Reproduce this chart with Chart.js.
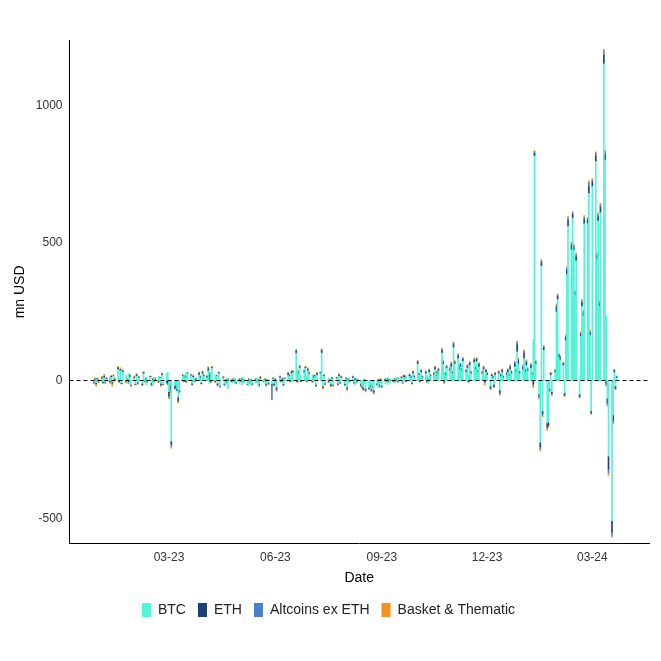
<!DOCTYPE html>
<html><head><meta charset="utf-8">
<script src="https://cdn.jsdelivr.net/npm/chart.js@4/dist/chart.umd.min.js"></script>
<style>html,body{margin:0;padding:0;background:#fff}canvas{display:block}</style>
</head><body><canvas id="c" width="661" height="661"></canvas>
<script>
// Weekday flows, starting Monday 2022-12-26, 5 values per week (Mon..Fri)
const BTC = [
-5,3,-8,4,2, 6,-4,10,-6,5, 8,12,-5,15,-3, 40,10,35,-8,30, 20,-10,25,12,-15,
8,-12,15,-6,10, -10,25,5,-15,8, 12,-8,-18,10,-6, 15,8,-10,20,-12, 25,30,-40,-15,-220,
-20,-15,-30,-60,-35, 15,20,10,30,25, 18,-10,12,8,-6, 20,10,-8,25,15, 10,35,-12,30,45,
20,15,-10,25,-20, 10,-12,-15,8,-30, 6,-8,10,-12,-5, -10,8,-15,12,-8, -12,-18,6,-15,-10,
-8,10,-20,-12,6, 5,-6,-10,-15,-8, -12,6,-10,-8,-25, 10,5,-8,-12,6, 20,15,10,25,30,
100,40,25,45,20, 30,45,15,35,25, 20,10,15,-15,20, 25,100,-20,15,-10, 10,-8,-12,6,-15,
8,-10,15,-6,10, -12,6,-25,-8,10, 10,-6,-15,8,-10, -12,-20,-25,-10,-30, -25,-15,-30,-20,-35,
-10,-25,-15,-8,-20, -12,8,-15,10,-10, 6,-8,10,-5,12, 8,-6,12,10,20, 15,10,-8,25,12,
60,20,15,30,10, 25,18,-10,30,15, 20,40,15,25,35, 100,60,30,20,45, 35,50,25,120,60,
80,40,50,35,70, 30,45,20,55,25, 65,40,70,30,50, 25,40,15,30,20, -20,15,10,-15,20,
25,-35,15,30,10, 20,30,15,40,25, 50,30,105,60,25, 40,80,30,55,35, 45,20,150,815,60,
-50,-225,416,-110,110, -155,-150,-30,20,-40, 30,250,295,85,75, 55,-45,145,385,560,
475,590,475,310,435, -50,160,270,235,570, 570,680,165,-110,705, 795,440,580,270,610,
1150,800,235,-65,-275, -510,-125,30,-20,10
];
const ETH = [
-3,2,-4,3,-2, 4,-3,5,-2,3, -4,3,-5,2,4, 5,-3,4,-2,3, -3,2,-4,5,-2,
3,-2,4,-3,2, -4,3,-2,4,-3, 2,-5,3,-2,4, -3,2,-4,3,-2, -5,-8,-15,-20,-10,
-6,-8,-5,-12,-4, 3,-2,4,-3,2, 2,-3,3,-2,4, 5,3,-2,4,3, 4,8,20,-4,3,
-3,2,-4,3,-2, 2,-3,2,-4,3, -2,3,-2,2,-3, 3,-2,4,-3,2, -2,3,-4,2,-3,
3,-2,2,-3,4, -2,3,-4,2,-3, -5,2,-4,3,-6, 3,-2,4,-3,2, 4,3,-2,5,3,
6,-3,4,5,-2, 4,3,-2,5,3, -3,4,2,-3,4, 3,8,-4,3,-2, -3,2,-4,3,-2,
2,-3,4,-2,3, -3,2,-4,3,-2, 3,-2,4,-3,2, -4,-3,-5,2,-4, -3,-5,-4,-3,-6,
-3,2,-4,3,-2, 3,-2,4,-3,2, -2,3,-2,4,-3, 3,-2,4,3,-2, 4,3,-2,5,3,
6,3,-2,4,3, 5,-3,4,6,3, 4,6,3,5,4, 8,6,-3,5,4, 6,8,5,10,6,
8,5,6,4,7, 5,6,-3,7,4, 8,5,6,4,7, 5,6,-4,5,4, -6,4,3,-5,4,
5,-8,4,6,3, 5,6,4,8,5, 10,6,25,12,5, 8,20,6,10,5, 8,5,-12,10,6,
-8,-15,12,-10,8, -12,-10,-5,4,-6, 5,15,10,6,8, 5,-6,10,15,20,
15,12,10,8,14, -6,8,12,10,15, 12,25,8,-6,15, 20,12,15,10,18,
30,20,-10,-15,-45, -40,-20,5,-6,3
];
const ALT = [
2,-2,3,-1,2, -2,3,-2,2,-1, 2,-2,3,-2,2, 3,-2,2,-1,3, -2,2,-3,2,-1,
2,-1,3,-2,1, -2,2,-1,3,-2, 1,-3,2,-1,3, -2,1,-3,2,-1, -3,-4,-6,-5,-8,
-3,-4,-2,-5,-2, 2,-1,3,-2,1, 1,-2,2,-1,3, 3,2,-1,3,2, 2,4,6,-2,2,
-2,1,-3,2,-1, 1,-2,1,-3,2, -1,2,-1,1,-2, 2,-1,3,-2,1, -1,2,-3,1,-2,
2,-1,1,-2,3, -1,2,-3,1,-2, -50,1,-3,2,-4, 2,-1,3,-2,1, 3,2,-1,3,2,
4,-2,3,3,-1, 3,2,-1,3,2, -2,3,1,-2,3, 2,4,-3,2,-1, -2,1,-3,2,-1,
1,-2,3,-1,2, -2,1,-3,2,-1, 2,-1,3,-2,1, -3,-2,-3,1,-3, -2,-3,-3,-2,-4,
-2,1,-3,2,-1, 2,-1,3,-2,1, -1,2,-1,3,-2, 2,-1,3,2,-1, 3,2,-1,3,2,
4,2,-1,3,2, 3,-2,3,4,2, 3,4,2,3,3, 5,4,-2,3,3, 4,5,3,6,4,
5,3,4,3,4, 3,4,-2,4,3, 5,3,4,3,4, 3,4,-3,3,3, -4,3,2,-3,3,
3,-5,3,4,2, 3,4,3,5,3, 6,4,8,6,3, 5,6,4,6,3, 5,3,-6,6,4,
-5,-8,6,-6,5, -6,-5,-3,3,-4, 3,8,6,4,5, 3,-4,6,8,10,
8,7,6,5,8, -4,5,7,6,8, 7,12,5,-4,8, 10,7,8,6,9,
15,10,-6,-8,-15, -12,-8,3,-4,2
];
const BASKET = [
-4,5,-8,3,-6, 5,-4,8,-3,4, -6,4,-10,5,3, 4,-3,5,-2,4, -4,3,-5,4,-3,
3,-2,4,-3,2, -3,3,-2,4,-3, 2,-4,3,-2,4, -3,2,-4,3,-2, -4,-5,-6,-4,-8,
-3,-4,-2,-5,-3, 2,-2,3,-2,2, 2,-2,3,-2,3, 3,2,-2,3,2, 2,3,4,-2,2,
-2,2,-3,2,-2, 2,-2,2,-3,2, -2,2,-2,2,-2, 2,-2,3,-2,2, -2,2,-3,2,-2,
2,-2,2,-3,3, -2,2,-3,2,-2, -3,2,-3,2,-4, 2,-2,3,-2,2, 3,2,-2,3,2,
3,-2,3,3,-2, 3,2,-2,3,2, -2,3,2,-2,3, 2,3,-3,2,-2, -2,2,-3,2,-2,
2,-2,3,-2,2, -2,2,-3,2,-2, 2,-2,3,-2,2, -3,-2,-3,2,-3, -2,-3,-3,-2,-4,
-2,2,-3,2,-2, 2,-2,3,-2,2, -2,2,-2,3,-2, 2,-2,3,2,-2, 3,2,-2,3,2,
3,2,-2,3,2, 3,-2,3,3,2, 3,3,2,3,3, 4,3,-6,3,3, 3,4,3,5,3,
4,3,3,3,4, 3,3,-2,3,3, 4,3,3,3,4, 3,3,-8,3,3, -3,3,2,-3,3,
3,-6,3,3,2, 3,3,3,4,3, 5,3,5,4,3, 4,5,3,4,3, 4,3,-8,4,3,
-5,-8,5,-6,4, -8,-6,-3,3,-4, 3,5,4,3,4, 3,-4,5,6,6,
6,5,4,4,6, -3,4,5,4,6, 5,8,4,-3,6, 6,5,6,4,6,
8,6,-4,-5,-10, -8,-5,3,-3,2
];
const TICK_DAYS = [65, 157, 249, 340, 431];
const TICK_LABELS = ['03-23', '06-23', '09-23', '12-23', '03-24'];
const Y_TICKS = [-500, 0, 500, 1000];

const dayOf = i => 7 * Math.floor(i / 5) + (i % 5);
const mk = arr => arr.map((v, i) => ({x: dayOf(i), y: v}));
const ds = (label, arr, color) => ({label, data: mk(arr), backgroundColor: color, borderWidth: 0,
  barThickness: 1, categoryPercentage: 1, barPercentage: 1});

const zeroLine = {id: 'zeroLine', afterDatasetsDraw(ch) {
  const c = ch.ctx, y = ch.scales.y.getPixelForValue(0);
  c.save(); c.strokeStyle = '#000'; c.lineWidth = 1; c.setLineDash([4, 3]);
  c.beginPath(); c.moveTo(ch.chartArea.left, y); c.lineTo(ch.chartArea.right, y); c.stroke(); c.restore();
}};

new Chart(document.getElementById('c'), {
  type: 'bar',
  data: {datasets: [
    ds('BTC', BTC, '#4ff5d6'),
    ds('ETH', ETH, '#1c3f75'),
    ds('Altcoins ex ETH', ALT, '#4a7fd0'),
    ds('Basket & Thematic', BASKET, '#f7901e')
  ]},
  options: {
    responsive: false, animation: false,
    layout: {padding: {left: 8, right: 12, top: 40, bottom: 34}},
    plugins: {
      tooltip: {enabled: false},
      legend: {position: 'bottom', labels: {boxWidth: 9, boxHeight: 14, padding: 12,
        font: {family: 'Liberation Sans', size: 14}, color: '#222'}}
    },
    scales: {
      x: {type: 'linear', stacked: true, offset: false, min: -21, max: 480,
        grid: {display: false, drawTicks: true, tickLength: 4, tickColor: '#333'},
        border: {display: true, color: '#000', width: 1},
        afterBuildTicks: a => { a.ticks = TICK_DAYS.map(v => ({value: v})); },
        ticks: {autoSkip: false, maxRotation: 0, color: '#333', font: {family: 'Liberation Sans', size: 12},
          callback: (v) => TICK_LABELS[TICK_DAYS.indexOf(v)]},
        title: {display: true, text: 'Date', color: '#000', font: {family: 'Liberation Sans', size: 14}, padding: {top: 2}}
      },
      y: {stacked: true, min: -593, max: 1237,
        grid: {display: false, drawTicks: true, tickLength: 4, tickColor: '#333'},
        border: {display: true, color: '#000', width: 1},
        afterBuildTicks: a => { a.ticks = Y_TICKS.map(v => ({value: v})); },
        ticks: {color: '#333', font: {family: 'Liberation Sans', size: 12}, callback: v => String(v)},
        title: {display: true, text: 'mn USD', color: '#000', font: {family: 'Liberation Sans', size: 14}}
      }
    }
  },
  plugins: [zeroLine]
});
</script></body></html>
